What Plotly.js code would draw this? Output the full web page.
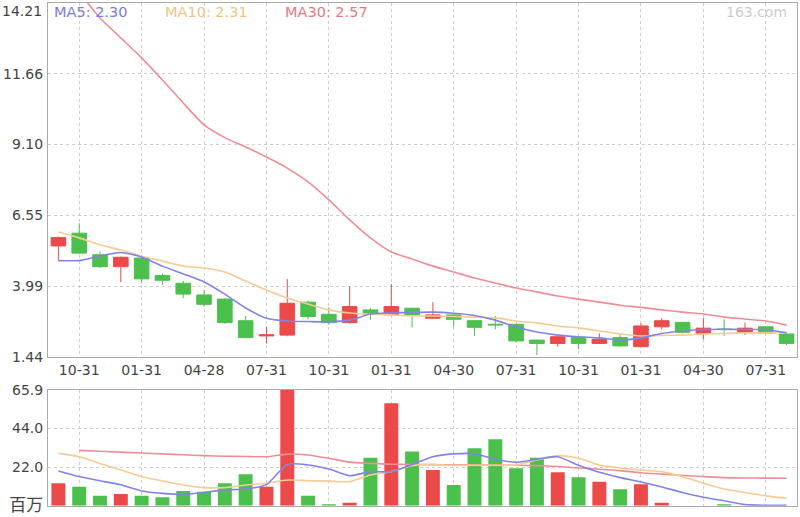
<!DOCTYPE html>
<html><head><meta charset="utf-8">
<script src="https://cdn.plot.ly/plotly-3.0.1.min.js"></script>
<style>html,body{margin:0;padding:0;background:#fff}#chart{width:800px;height:517px}</style>
</head><body><div id="chart"></div>
<script>
const dates = ["2016-09-30","2016-10-31","2016-11-30","2016-12-30","2017-01-31","2017-02-28","2017-03-31","2017-04-28","2017-05-31","2017-06-30","2017-07-31","2017-08-31","2017-09-29","2017-10-31","2017-11-30","2017-12-29","2018-01-31","2018-02-28","2018-03-29","2018-04-30","2018-05-31","2018-06-29","2018-07-31","2018-08-31","2018-09-28","2018-10-31","2018-11-30","2018-12-31","2019-01-31","2019-02-28","2019-03-29","2019-04-30","2019-05-31","2019-06-28","2019-07-31","2019-08-30"];
const openP  = [5.44,5.90,5.12,4.69,5.00,4.37,4.09,3.67,3.52,2.74,2.19,2.22,3.41,2.97,2.67,3.13,2.95,3.19,2.83,2.95,2.74,2.61,2.61,2.04,1.92,2.14,1.92,2.13,1.80,2.52,2.68,2.29,2.44,2.32,2.52,2.26];
const highP  = [5.78,6.26,5.24,5.06,5.03,4.44,4.18,3.85,3.56,2.91,2.52,4.24,3.46,3.23,3.97,3.19,4.07,3.21,3.41,2.97,2.76,2.91,2.63,2.06,2.22,2.16,2.28,2.25,2.65,2.83,2.70,2.83,2.79,2.67,2.54,2.28];
const lowP   = [4.91,5.14,4.64,4.13,4.09,4.03,3.55,3.25,2.63,2.11,1.92,2.18,2.79,2.59,2.64,2.77,2.93,2.50,2.81,2.52,2.19,2.43,1.95,1.50,1.80,1.71,1.90,1.81,1.78,2.43,2.28,2.07,2.19,2.22,2.26,1.86];
const closeP = [5.74,5.18,4.69,5.03,4.25,4.20,3.70,3.33,2.67,2.13,2.23,3.37,2.89,2.67,3.25,2.97,3.25,2.95,2.95,2.79,2.50,2.59,2.01,1.92,2.16,1.92,2.07,1.83,2.55,2.74,2.32,2.47,2.42,2.47,2.29,1.92];
const ma5P  = [4.91,4.91,5.08,5.20,5.04,4.71,4.43,4.14,3.70,3.20,2.83,2.73,2.71,2.70,2.76,2.98,3.02,3.04,3.05,3.01,2.93,2.76,2.51,2.33,2.22,2.16,2.12,2.04,2.12,2.28,2.37,2.42,2.43,2.42,2.42,2.30];
const ma10P = [5.94,5.73,5.48,5.29,5.07,4.89,4.71,4.64,4.50,4.17,3.85,3.56,3.34,3.13,3.02,2.98,2.95,2.91,2.91,2.89,2.87,2.84,2.73,2.66,2.55,2.48,2.37,2.26,2.19,2.21,2.22,2.26,2.28,2.30,2.30,2.31];
const ma30P = [15.60,14.60,13.67,12.95,12.23,11.43,10.60,9.81,9.35,9.01,8.65,8.25,7.75,7.10,6.38,5.73,5.22,4.97,4.71,4.50,4.28,4.10,3.92,3.78,3.63,3.52,3.41,3.30,3.22,3.13,3.05,2.98,2.87,2.80,2.73,2.58];
const volume = [12.8,10.8,5.7,6.7,5.7,4.8,8.4,8.0,12.8,17.9,10.8,65.9,5.7,0.8,1.7,27.3,58.3,30.8,20.3,11.8,32.7,37.8,21.3,27.3,19.0,16.2,13.7,9.3,12.2,1.7,0,0,0.8,0,0,0];
const ma5V  = [19.8,16.6,14.2,11.9,8.4,7.0,6.4,7.6,9.0,9.5,12.0,23.5,23.2,20.9,17.1,19.4,19.4,23.5,27.9,29.5,29.6,26.5,24.7,26.4,27.9,23.0,19.0,16.0,13.5,10.7,7.5,4.8,2.8,0.6,0.2,0.2];
const ma10V = [29.8,27.9,24.1,20.3,16.5,14.1,11.8,10.3,10.3,11.8,12.8,14.6,14.3,14.0,13.7,17.5,19.4,22.8,23.5,23.0,23.0,23.0,23.2,26.0,28.5,27.0,23.2,21.5,20.3,19.4,16.5,12.8,9.5,7.5,5.6,4.2];
const ma30V = [null,31.5,31.0,30.5,30.0,29.5,29.0,28.5,28.2,28.0,27.9,29.4,28.9,27.0,24.8,24.1,23.6,23.5,23.4,23.3,23.2,23.1,23.0,22.8,22.3,21.5,20.8,20.0,18.8,18.0,17.2,16.6,16.0,15.8,15.7,15.6];
const xTickVals = ["2016-10-31","2017-01-31","2017-04-28","2017-07-31","2017-10-31","2018-01-31","2018-04-30","2018-07-31","2018-10-31","2019-01-31","2019-04-30","2019-07-31"];
const xTickText = ["10-31","01-31","04-28","07-31","10-31","01-31","04-30","07-31","10-31","01-31","04-30","07-31"];
const priceTicks = [1.44,3.99,6.55,9.10,11.66,14.21];
const priceTickText = ["1.44","3.99","6.55","9.10","11.66","14.21"];
const volTicks = [0,22.0,44.0,65.9];
const volTickText = ["百万","22.0","44.0","65.9"];
const legendLabels = ["MA5: 2.30","MA10: 2.31","MA30: 2.57"];

const upColor = '#ec4a4a', downColor = '#4cc04c';
const c5 = '#8383e6', c10 = '#f6cb94', c30 = '#ee8d96';
const barColors = closeP.map((c,i)=> c >= openP[i] ? upColor : downColor);

const FONT = 'DejaVu Sans, Noto Sans CJK SC, sans-serif';
const traces = [
  {type:'candlestick', x:dates, open:openP, high:highP, low:lowP, close:closeP, xaxis:'x', yaxis:'y',
   increasing:{line:{color:upColor,width:1}, fillcolor:upColor},
   decreasing:{line:{color:downColor,width:1}, fillcolor:downColor}, hoverinfo:'skip'},
  {type:'scatter', mode:'lines', x:dates, y:ma30P, line:{color:c30,width:1.6,shape:'spline',smoothing:0.6}, xaxis:'x', yaxis:'y'},
  {type:'scatter', mode:'lines', x:dates, y:ma10P, line:{color:c10,width:1.6,shape:'spline',smoothing:0.6}, xaxis:'x', yaxis:'y'},
  {type:'scatter', mode:'lines', x:dates, y:ma5P, line:{color:c5,width:1.6,shape:'spline',smoothing:0.6}, xaxis:'x', yaxis:'y'},
  {type:'bar', x:dates, y:volume, marker:{color:barColors}, xaxis:'x2', yaxis:'y2'},
  {type:'scatter', mode:'lines', x:dates, y:ma30V, line:{color:c30,width:1.6,shape:'spline',smoothing:0.6}, xaxis:'x2', yaxis:'y2'},
  {type:'scatter', mode:'lines', x:dates, y:ma10V, line:{color:c10,width:1.6,shape:'spline',smoothing:0.6}, xaxis:'x2', yaxis:'y2'},
  {type:'scatter', mode:'lines', x:dates, y:ma5V, line:{color:c5,width:1.6,shape:'spline',smoothing:0.6}, xaxis:'x2', yaxis:'y2'}
];

const gridCommon = {gridcolor:'#cfcfcf', griddash:'3px,3px', gridwidth:1, showline:true, mirror:true, linecolor:'#aaaaaa', linewidth:1, zeroline:false, fixedrange:true};
const xDom = [48/800, 797/800];
const topTickText = priceTickText.slice(0, -1).concat([""]);
const volTickHtml = volTickText.map((t,i)=> i===0 ? '<span style="font-size:17px">'+t+'</span>' : t);
const layout = {
  width:800, height:517, margin:{l:0,r:0,t:0,b:0}, paper_bgcolor:'#fff', plot_bgcolor:'#fff',
  showlegend:false, bargap:0.33, boxgap:0.3, boxgroupgap:0, font:{family:FONT, size:14, color:'#444'},
  xaxis: Object.assign({type:'category', domain:xDom, anchor:'y', range:[-0.5,35.5], categoryorder:'array', categoryarray:dates,
    tickmode:'array', tickvals:xTickVals, ticktext:xTickText, ticks:'', rangeslider:{visible:false},
    tickfont:{family:FONT,size:14,color:'#444'}}, gridCommon),
  yaxis: Object.assign({domain:[1-356.7/517, 1-3/517], anchor:'x', range:[1.44,14.21], tickmode:'array', tickvals:priceTicks, ticktext:topTickText, ticks:'', ticklabelstandoff:1,
    tickfont:{family:FONT,size:14,color:'#444'}}, gridCommon),
  xaxis2: Object.assign({type:'category', domain:xDom, anchor:'y2', range:[-0.5,35.5], categoryorder:'array', categoryarray:dates,
    tickmode:'array', tickvals:xTickVals, ticktext:xTickText, showticklabels:false, ticks:''}, gridCommon),
  yaxis2: Object.assign({domain:[1-505.7/517, 1-390/517], anchor:'x2', range:[0,65.9], tickmode:'array', tickvals:volTicks, ticktext:volTickHtml, ticks:'', ticklabelstandoff:1,
    tickfont:{family:FONT,size:14,color:'#444'}}, gridCommon),
  annotations: [
    {text:priceTickText[priceTickText.length-1], xref:'paper', yref:'paper', x:44/800, y:1-1/517, xanchor:'right', yanchor:'top', showarrow:false, font:{family:FONT,size:14,color:'#444'}},
    {text:legendLabels[0], xref:'paper', yref:'paper', x:52/800, y:1-12/517, xanchor:'left', yanchor:'middle', showarrow:false, font:{family:FONT,size:14.5,color:'#7b7bdc'}},
    {text:legendLabels[1], xref:'paper', yref:'paper', x:163/800, y:1-12/517, xanchor:'left', yanchor:'middle', showarrow:false, font:{family:FONT,size:14.5,color:'#f2c483'}},
    {text:legendLabels[2], xref:'paper', yref:'paper', x:283/800, y:1-12/517, xanchor:'left', yanchor:'middle', showarrow:false, font:{family:FONT,size:14.5,color:'#e57a84'}},
    {text:'163.com', xref:'paper', yref:'paper', x:789/800, y:1-12/517, xanchor:'right', yanchor:'middle', showarrow:false, font:{family:FONT,size:14,color:'#cccccc'}}
  ]
};
Plotly.newPlot('chart', traces, layout, {staticPlot:true, displayModeBar:false});
</script>
</body></html>
